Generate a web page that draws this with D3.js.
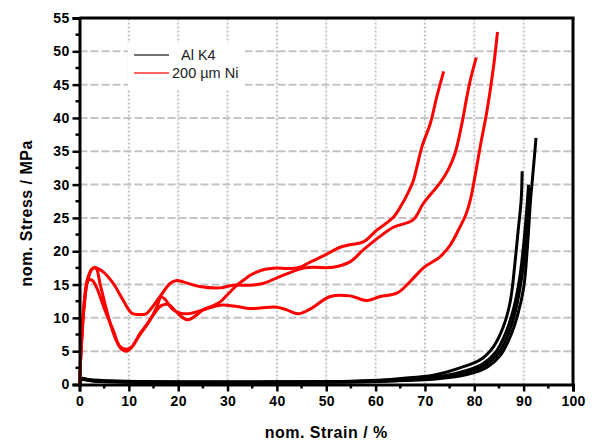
<!DOCTYPE html>
<html>
<head>
<meta charset="utf-8">
<script src="https://cdn.jsdelivr.net/npm/d3@7"></script>
<style>
body { margin: 0; background: #fff; }
text { font-family: "Liberation Sans", Arial, sans-serif; }
</style>
</head>
<body>
<script>
var width = 592, height = 441;

// red: 200 um Ni (three specimens), black: Al K4 (four specimens)
var ni1 = [[0,0],[0.3,5],[0.8,11],[1.5,15],[2.5,17.3],[3.3,17.5],[4.2,15],[5.2,12],[6.3,9],[7.5,6.5],[8.5,5.3],[9.4,5.0],[10.5,5.5],[12,7.2],[13.5,8.8],[15,10.5],[16.5,11.8],[18,12],[19.5,11],[21,10],[22,9.7],[23.5,10.3],[25,11.2],[27,11.8],[28.5,12.4],[30,13.5],[31.9,14.9],[33.5,15.8],[34.6,16.4],[36,16.9],[37.6,17.3],[40,17.5],[42,17.4],[44.7,17.6],[46.3,18.2],[49.4,19.3],[52.8,20.6],[55,21],[57.5,21.4],[60.3,23.2],[63.6,25.1],[65.3,27],[66.4,28.5],[67.6,30.5],[69.4,35.7],[71.1,39.2],[72.4,43.2],[73.8,47]];
var ni2 = [[0,0],[0.3,5],[0.8,11],[1.5,15.5],[2.5,17.3],[3.3,17.5],[4.8,16.9],[6.8,15.2],[8.8,12.7],[10.6,10.7],[12,10.5],[13.5,10.6],[14.3,11.2],[16.3,13.2],[18.4,15.2],[19.7,15.6],[21,15.4],[24.4,14.7],[28.5,14.5],[31.1,14.9],[34.6,14.9],[37.3,15.2],[41.3,16.4],[45.7,17.5],[51.4,17.6],[54.8,18.4],[57.5,20.2],[60.5,22.0],[63.6,23.6],[67.6,24.7],[69.7,27.2],[73.1,30.3],[74.7,32.2],[76.1,34.7],[77.5,39.2],[78.5,43.2],[79.2,45.7],[80.4,49.1]];
var ni3 = [[0,0],[0.4,6],[1,12],[1.8,15.7],[2.6,15.6],[3.5,14.5],[4.5,12.5],[5.5,10.5],[6.8,8.2],[8.2,5.7],[9.4,5.3],[10.5,5.6],[12.3,7.7],[14.3,9.7],[15.7,11.7],[16.5,13.1],[17.3,12.8],[19,11.2],[21.7,10.6],[25.1,11.2],[28.5,11.9],[31.9,11.7],[34.6,11.4],[40,11.6],[42,11.2],[44.3,10.6],[46.7,11.3],[50.8,13.2],[54.8,13.3],[58.2,12.6],[60.9,13.2],[64.3,13.7],[66.3,14.9],[67.7,16.0],[69.7,17.5],[73.1,19.2],[75.1,20.9],[77,23.5],[78.3,25.5],[79.2,27.7],[80.2,31.5],[81.2,35.7],[82.6,41.2],[83.9,47.7],[84.7,52.9]];
var al1 = [[0,0],[0.4,0.9],[2,0.7],[8,0.5],[20,0.35],[40,0.4],[55,0.5],[62,0.7],[65,0.9],[71.7,1.4],[77.1,2.5],[81.2,3.7],[83.9,5.7],[85.9,8.7],[87.3,12.5],[88.3,18.7],[88.9,23.2],[89.5,27.7],[89.7,32]];
var al2 = [[0,0],[0.4,0.8],[2,0.6],[10,0.35],[30,0.3],[50,0.35],[60,0.45],[66,0.6],[71.7,0.8],[78.5,1.5],[82.6,2.6],[85.2,4.3],[87.3,7.2],[88.8,10.5],[90,14.5],[90.7,20],[91.4,27.7],[91.8,31],[92.3,35.2],[92.5,37]];
var al3 = [[0,0],[0.4,0.8],[3,0.6],[20,0.4],[45,0.4],[60,0.5],[66,0.7],[71,1.0],[77,1.8],[81.5,3.0],[84.3,4.8],[86.4,7.8],[88,11.5],[89.2,16],[90,21],[90.6,26],[91,30]];
var al4 = [[0,0],[0.4,0.7],[3,0.5],[20,0.35],[45,0.35],[60,0.45],[66,0.65],[71,0.9],[77,1.6],[82,2.8],[84.8,4.6],[86.9,7.6],[88.4,11.2],[89.6,16],[90.4,21],[91,26],[91.4,29.5]];

var xTicks = [0,10,20,30,40,50,60,70,80,90,100];
var yTicks = [0,5,10,15,20,25,30,35,40,45,50,55];
var legendNames = ["Al K4", "200 \u00b5m Ni"];

var svg = d3.select("body").append("svg")
    .attr("width", width)
    .attr("height", height);

var x = d3.scaleLinear().domain([0, 100]).range([79.5, 573]);
var y = d3.scaleLinear().domain([0, 55]).range([384.5, 18]);

// grid
svg.append("g").selectAll("line")
    .data(yTicks.filter(function(d){ return d > 0 && d < 55; }))
    .enter().append("line")
    .attr("x1", x(0)).attr("x2", x(100))
    .attr("y1", function(d){ return y(d); }).attr("y2", function(d){ return y(d); })
    .attr("stroke", "#c4c4c4").attr("stroke-width", 2)
    .attr("stroke-dasharray", "8,3");

svg.append("g").selectAll("line")
    .data(xTicks.filter(function(d){ return d > 0 && d < 100; }))
    .enter().append("line")
    .attr("x1", function(d){ return x(d); }).attr("x2", function(d){ return x(d); })
    .attr("y1", y(0)).attr("y2", y(55))
    .attr("stroke", "#c4c4c4").attr("stroke-width", 2)
    .attr("stroke-dasharray", "2,2");

// legend background
svg.append("rect")
    .attr("x", 128).attr("y", 43).attr("width", 117).attr("height", 47)
    .attr("fill", "#fff");

var lineFree = d3.line()
    .x(function(d){ return x(d[0]); })
    .y(function(d){ return y(d[1]); })
    .curve(d3.curveCatmullRom);

[al1, al2, al3, al4].forEach(function(s) {
  svg.append("path").datum(s)
    .attr("d", lineFree)
    .attr("fill", "none").attr("stroke", "#000").attr("stroke-width", 3);
});

[ni1, ni2, ni3].forEach(function(s) {
  svg.append("path").datum(s)
    .attr("d", lineFree)
    .attr("fill", "none").attr("stroke", "#ff0000").attr("stroke-width", 3);
});

// axes
var xAxis = svg.append("g")
    .attr("transform", "translate(0," + y(0) + ")")
    .call(d3.axisBottom(x).tickValues(xTicks).tickSize(7).tickPadding(5));
var yAxis = svg.append("g")
    .attr("transform", "translate(" + x(0) + ",0)")
    .call(d3.axisLeft(y).tickValues(yTicks).tickSize(7).tickPadding(3));

[xAxis, yAxis].forEach(function(a) {
  a.select(".domain").attr("stroke-width", 3);
  a.selectAll(".tick line").attr("stroke-width", 2.5);
  a.selectAll(".tick text")
    .attr("font-size", 14).attr("font-weight", "bold")
    .attr("font-family", "'Liberation Sans', Arial, sans-serif")
    .attr("letter-spacing", "0.3px").attr("fill", "#000");
});

// minor ticks
svg.append("g").selectAll("line")
    .data(xTicks.slice(0, -1).map(function(d){ return d + 5; }))
    .enter().append("line")
    .attr("x1", function(d){ return x(d); }).attr("x2", function(d){ return x(d); })
    .attr("y1", y(0)).attr("y2", y(0) + 4)
    .attr("stroke", "#000").attr("stroke-width", 2.5);
svg.append("g").selectAll("line")
    .data(yTicks.slice(0, -1).map(function(d){ return d + 2.5; }))
    .enter().append("line")
    .attr("x1", x(0) - 4).attr("x2", x(0))
    .attr("y1", function(d){ return y(d); }).attr("y2", function(d){ return y(d); })
    .attr("stroke", "#000").attr("stroke-width", 2.5);

// top and right frame
svg.append("line")
    .attr("x1", x(0)).attr("x2", x(100) + 1.5).attr("y1", y(55)).attr("y2", y(55))
    .attr("stroke", "#000").attr("stroke-width", 3);
svg.append("line")
    .attr("x1", x(100)).attr("x2", x(100)).attr("y1", y(55)).attr("y2", y(0))
    .attr("stroke", "#000").attr("stroke-width", 3);

// axis titles
svg.append("text")
    .attr("x", (x(0) + x(100)) / 2).attr("y", 438)
    .attr("text-anchor", "middle")
    .attr("font-size", 16).attr("font-weight", "bold")
    .attr("letter-spacing", "0.5px")
    .text("nom. Strain / %");
svg.append("text")
    .attr("transform", "translate(32," + (y(27.5) + 12) + ") rotate(-90)")
    .attr("text-anchor", "middle")
    .attr("font-size", 16).attr("font-weight", "bold")
    .attr("letter-spacing", "0.5px")
    .text("nom. Stress / MPa");

// legend
var legColors = ["#444", "#ff3030"];
var leg = svg.append("g");
leg.selectAll("line")
    .data(legendNames)
    .enter().append("line")
    .attr("x1", 134).attr("x2", 169)
    .attr("y1", function(d, i){ return 55 + i * 18; })
    .attr("y2", function(d, i){ return 55 + i * 18; })
    .attr("stroke", function(d, i){ return legColors[i]; })
    .attr("stroke-width", 1.5);
leg.selectAll("text")
    .data(legendNames)
    .enter().append("text")
    .attr("x", function(d, i){ return i === 0 ? 181 : 172; })
    .attr("y", function(d, i){ return 60 + i * 18; })
    .attr("font-size", 14.5)
    .attr("fill", "#222")
    .text(function(d){ return d; });
</script>
</body>
</html>
